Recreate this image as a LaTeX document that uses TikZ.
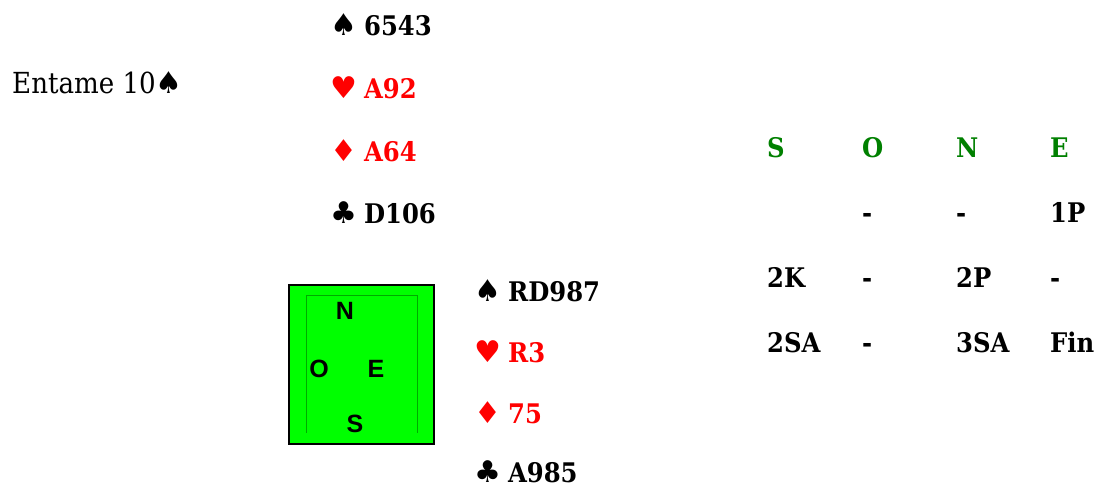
\documentclass[tikz,border=0pt]{standalone}
\usepackage{fontspec}
\setmainfont{DejaVu Serif Condensed}
\newfontfamily\symfont{DejaVu Sans}
\newfontfamily\arialfont{Liberation Sans}
\definecolor{suitred}{RGB}{255,0,0}
\definecolor{bidgreen}{RGB}{0,128,0}
\definecolor{boxgreen}{RGB}{0,255,0}
\definecolor{linegreen}{RGB}{0,170,0}
\tikzset{
  hand/.style={anchor=base west, inner sep=0pt, text depth=0pt, font=\fontsize{27}{32}\selectfont\bfseries},
  redhand/.style={hand, text=suitred},
  bid/.style={anchor=base west, inner sep=0pt, font=\fontsize{27}{32}\selectfont\bfseries},
  bidhead/.style={bid, text=bidgreen},
  compass/.style={anchor=center, inner sep=0pt, font=\fontsize{25}{28}\selectfont\arialfont\bfseries},
  plain/.style={anchor=base west, inner sep=0pt, font=\fontsize{29}{34}\selectfont},
}
\newcommand{\spd}{{\symfont\fontsize{30}{34}\selectfont ♠}}
\newcommand{\hrt}{{\symfont\fontsize{30}{34}\selectfont ♥}}
\newcommand{\dmd}{{\symfont\fontsize{30}{34}\selectfont ♦}}
\newcommand{\clb}{{\symfont\fontsize{30}{34}\selectfont ♣}}
\newcommand{\gap}{\hspace{7pt}}
\begin{document}
\begin{tikzpicture}[x=1pt,y=-1pt]
\useasboundingbox (0,0) rectangle (1098,488);
% lead
\node[plain] (lead) at (12,93) {Entame 10\spd};
% North hand
\node[hand] (ns) at (330,35) {\spd\gap 6543};
\node[redhand] (nh) at (330,98) {\hrt\gap A92};
\node[redhand] (nd) at (330,161) {\dmd\gap A64};
\node[hand] (nc) at (330,223) {\clb\gap D106};
% East hand
\node[hand] (es) at (474,301) {\spd\gap RD987};
\node[redhand] (eh) at (474,362) {\hrt\gap R3};
\node[redhand] (ed) at (474,423) {\dmd\gap 75};
\node[hand] (ec) at (474,482) {\clb\gap A985};
% table box
\node[draw=black, line width=1.6pt, fill=boxgreen, minimum width=145pt, minimum height=159pt, anchor=north west, inner sep=0pt] (box) at (288,284) {};
\draw[linegreen, line width=0.5pt] (306,295) -- (306,433);
\draw[linegreen, line width=0.5pt] (417,295) -- (417,433);
\draw[linegreen, line width=0.3pt] (306,295) -- (417,295);
\node[compass] (cn) at (345,311) {N};
\node[compass] (co) at (319,369) {O};
\node[compass] (ce) at (376,369) {E};
\node[compass] (cs) at (355,424) {S};
% bidding
\node[bidhead] (hs) at (767,157) {S};
\node[bidhead] (ho) at (862,157) {O};
\node[bidhead] (hn) at (956,157) {N};
\node[bidhead] (he) at (1050,157) {E};
\node[bid] (b12) at (862,222) {-};
\node[bid] (b13) at (956,222) {-};
\node[bid] (b14) at (1050,222) {1P};
\node[bid] (b21) at (767,287) {2K};
\node[bid] (b22) at (862,287) {-};
\node[bid] (b23) at (956,287) {2P};
\node[bid] (b24) at (1050,287) {-};
\node[bid] (b31) at (767,352) {2SA};
\node[bid] (b32) at (862,352) {-};
\node[bid] (b33) at (956,352) {3SA};
\node[bid] (b34) at (1050,352) {Fin};
\end{tikzpicture}
\end{document}
